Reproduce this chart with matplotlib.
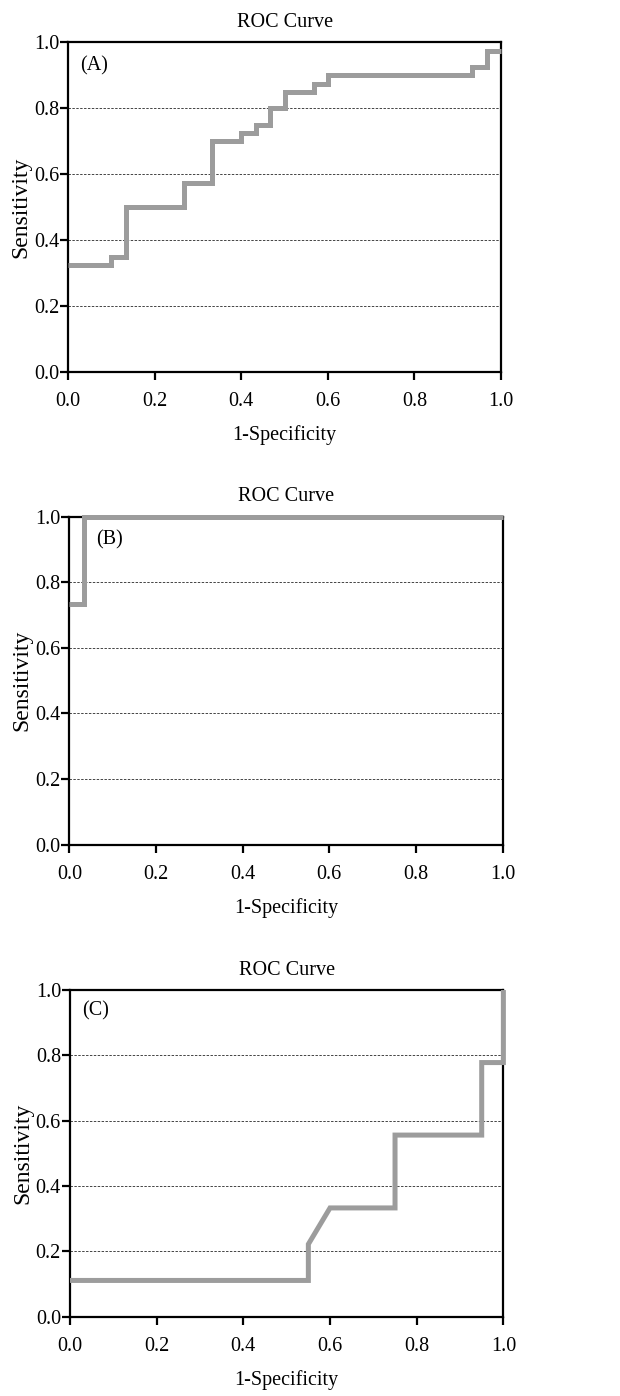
import matplotlib
matplotlib.use("Agg")
import matplotlib.pyplot as plt

# ROC curve vertices (1-Specificity, Sensitivity)
fpr_a = [0.0, 0.1, 0.1, 0.133, 0.133, 0.267, 0.267, 0.333, 0.333, 0.4, 0.4, 0.433, 0.433,
         0.467, 0.467, 0.5, 0.5, 0.567, 0.567, 0.6, 0.6, 0.933, 0.933, 0.967, 0.967, 1.0]
tpr_a = [0.325, 0.325, 0.35, 0.35, 0.5, 0.5, 0.575, 0.575, 0.7, 0.7, 0.725, 0.725, 0.75,
         0.75, 0.8, 0.8, 0.85, 0.85, 0.875, 0.875, 0.9, 0.9, 0.925, 0.925, 0.975, 0.975]

fpr_b = [0.0, 0.033, 0.033, 1.0]
tpr_b = [0.733, 0.733, 1.0, 1.0]

fpr_c = [0.0, 0.55, 0.55, 0.6, 0.75, 0.75, 0.95, 0.95, 1.0, 1.0]
tpr_c = [0.111, 0.111, 0.222, 0.333, 0.333, 0.556, 0.556, 0.778, 0.778, 1.0]

panel_labels = ["(A)", "(B)", "(C)"]
label_pos = [(0.027, 0.93), (0.063, 0.93), (0.028, 0.937)]
ticks = [0.0, 0.2, 0.4, 0.6, 0.8, 1.0]
tick_labels = ["0.0", "0.2", "0.4", "0.6", "0.8", "1.0"]
grid_levels = [0.2, 0.4, 0.6, 0.8]

plt.rcParams['font.family'] = ['Liberation Serif', 'DejaVu Serif']
FS = 14.5

fig = plt.figure(figsize=(6.2, 13.96), dpi=100)
rects = [
    [0.110, 0.7333, 0.698, 0.2364],
    [0.1118, 0.3949, 0.699, 0.2350],
    [0.1129, 0.0568, 0.699, 0.2340],
]
curves = [(fpr_a, tpr_a), (fpr_b, tpr_b), (fpr_c, tpr_c)]

for rect, (fx, ty), lab, lp in zip(rects, curves, panel_labels, label_pos):
    ax = fig.add_axes(rect)
    ax.set_xlim(0, 1)
    ax.set_ylim(0, 1)
    for g in grid_levels:
        ax.axhline(g, color='#444444', lw=0.7, ls=(0, (2.5, 1.5)), zorder=1)
    ax.plot(fx, ty, color='#9c9c9c', lw=3.6, solid_joinstyle='miter',
            solid_capstyle='butt', clip_on=False, zorder=5)
    for s in ax.spines.values():
        s.set_linewidth(1.6)
        s.set_color('black')
        s.set_zorder(4)
    ax.set_xticks(ticks)
    ax.set_xticklabels(tick_labels)
    ax.set_yticks(ticks)
    ax.set_yticklabels(tick_labels)
    ax.tick_params(direction='out', length=6, width=1.6, labelsize=FS, pad=0.5)
    ax.tick_params(axis='x', pad=8.5)
    ax.set_xlabel("1-Specificity", fontsize=FS, labelpad=10)
    ax.set_ylabel("Sensitivity", fontsize=17, labelpad=2)
    ax.set_title("ROC Curve", fontsize=FS, pad=11)
    ax.text(lp[0], lp[1], lab, transform=ax.transAxes, fontsize=FS,
            ha='left', va='center', zorder=6)

fig.savefig("out.png", dpi=100)
